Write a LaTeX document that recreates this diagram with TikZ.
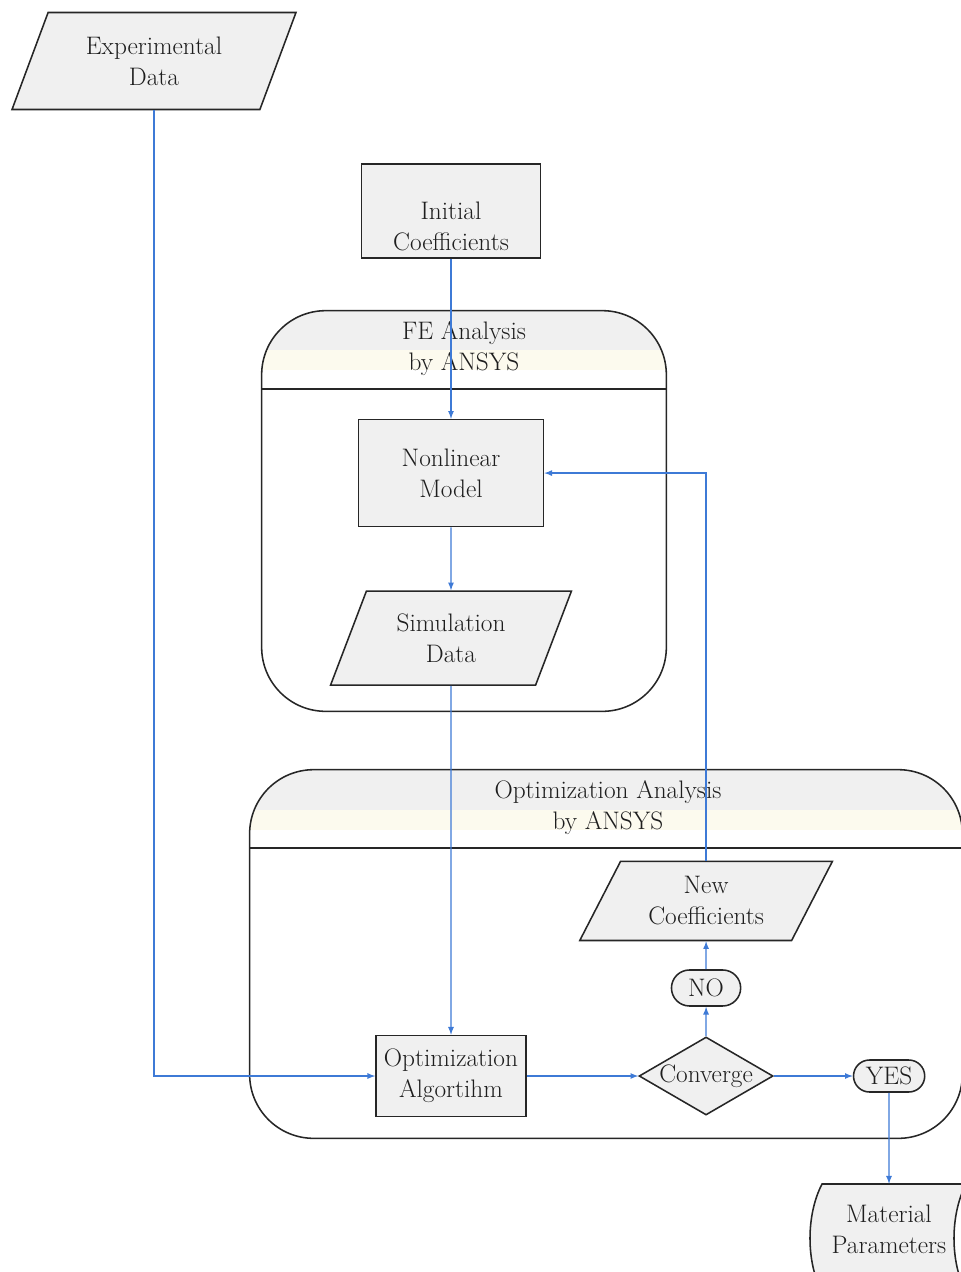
\documentclass[tikz,border=0pt]{standalone}
\usetikzlibrary{shapes.geometric,shapes.misc}

\definecolor{flowblue}{RGB}{62,122,214}
\definecolor{boxfill}{RGB}{240,240,240}
\definecolor{headcream}{RGB}{252,250,238}
\definecolor{textgray}{RGB}{30,30,30}

\tikzset{
	boxline/.style={draw=black!85, line width=1.1pt},
	procbox/.style={boxline, fill=boxfill, rectangle, inner sep=2pt, align=center},
	databox/.style={boxline, fill=boxfill, trapezium, trapezium left angle=66, trapezium right angle=114, trapezium stretches=true, inner sep=2pt, align=center},
	termbox/.style={boxline, fill=boxfill, rounded rectangle, inner sep=1pt},
	decibox/.style={boxline, fill=boxfill, diamond, aspect=1.72, inner sep=0pt},
	container/.style={rectangle, inner sep=0pt},
	flow/.style={-latex, draw=flowblue, line width=0.9pt}
}

\begin{document}
\begin{tikzpicture}[x=0.025cm, y=-0.025cm, every node/.style={font=\fontsize{18}{22}\selectfont, text=textgray}]
		
		\useasboundingbox (0,0) rectangle (961,1272);
		\clip (0,0) rectangle (961,1272);
		
		\node (fe) at (464,511) [container, minimum width=10.1cm, minimum height=10cm] {};
		\node (opt) at (606,954) [container, minimum width=17.8cm, minimum height=9.2cm] {};
		
		\foreach \c/\y/\g in {fe/389/350, opt/848/810} {
			\begin{scope}
				\clip[rounded corners=1.6cm] (\c.south west) rectangle (\c.north east);
				\fill[boxfill] (\c.north west) rectangle (\c.east |- 0,\g);
				\fill[headcream] (\c.west |- 0,\g) rectangle (\c.east |- 0,\g+20);
			\end{scope}
			\draw[boxline, rounded corners=1.6cm] (\c.south west) rectangle (\c.north east);
			\draw[boxline] (\c.west |- 0,\y) -- (\c.east |- 0,\y);
		}
		
		\node (fehead) at (464,349) [align=center] {FE Analysis\\by ANSYS};
		\node (opthead) at (608,808) [align=center] {Optimization Analysis\\by ANSYS};
		
		\node (expd) at (154,61) [databox, minimum width=7.1cm, minimum height=2.425cm] {Experimental\\Data};
		\node (init) at (451,211) [procbox, minimum width=4.475cm, minimum height=2.35cm] {\rule{0pt}{34pt}Initial\\Coefficients};
		\node (nonlin) [procbox, minimum width=4.625cm, minimum height=2.675cm] [below of=init, node distance=6.55cm] {Nonlinear\\Model};
		\node (simd) [databox, minimum width=6.025cm, minimum height=2.35cm] [below of=nonlin, node distance=4.125cm] {Simulation\\Data};
		
		\node (optalg) at (451,1076) [procbox, minimum width=3.75cm, minimum height=2.025cm] {Optimization\\Algortihm};
		\node (conv) [decibox, minimum width=3.35cm, minimum height=1.95cm] [right of=optalg, node distance=6.375cm] {\makebox[0pt]{Converge}};
		\node (no) [termbox, minimum width=1.8cm, minimum height=0.9cm] [above of=conv, node distance=2.2cm] {NO};
		\node (newc) [databox, trapezium left angle=62, trapezium right angle=118, minimum width=6.325cm, minimum height=1.975cm] [above of=no, node distance=2.175cm] {New\\Coefficients};
		\node (yes) [termbox, minimum width=1.85cm, minimum height=0.8cm] [right of=conv, node distance=4.575cm] {YES};
		
		\filldraw[boxline, fill=boxfill] (822,1184) -- (966,1184) .. controls (950,1215) and (950,1262) .. (966,1292) -- (822,1292) .. controls (806,1262) and (806,1215) .. (822,1184) -- cycle;
		\node (mat) at (889,1229) [container, minimum width=3.525cm, minimum height=2.25cm, align=center] {Material\\Parameters};
		
		\draw[flow] (expd.south) |- (optalg.west);
		\draw[flow] (init) -- (nonlin);
		\draw[flow] (nonlin) -- (simd);
		\draw[flow] (simd) -- (optalg);
		\draw[flow] (optalg) -- (conv);
		\draw[flow] (conv) -- (no);
		\draw[flow] (no) -- (newc);
		\draw[flow] (newc.north) |- (nonlin.east);
		\draw[flow] (conv) -- (yes);
		\draw[flow] (yes) -- (mat.north);
		
	\end{tikzpicture}
\end{document}
